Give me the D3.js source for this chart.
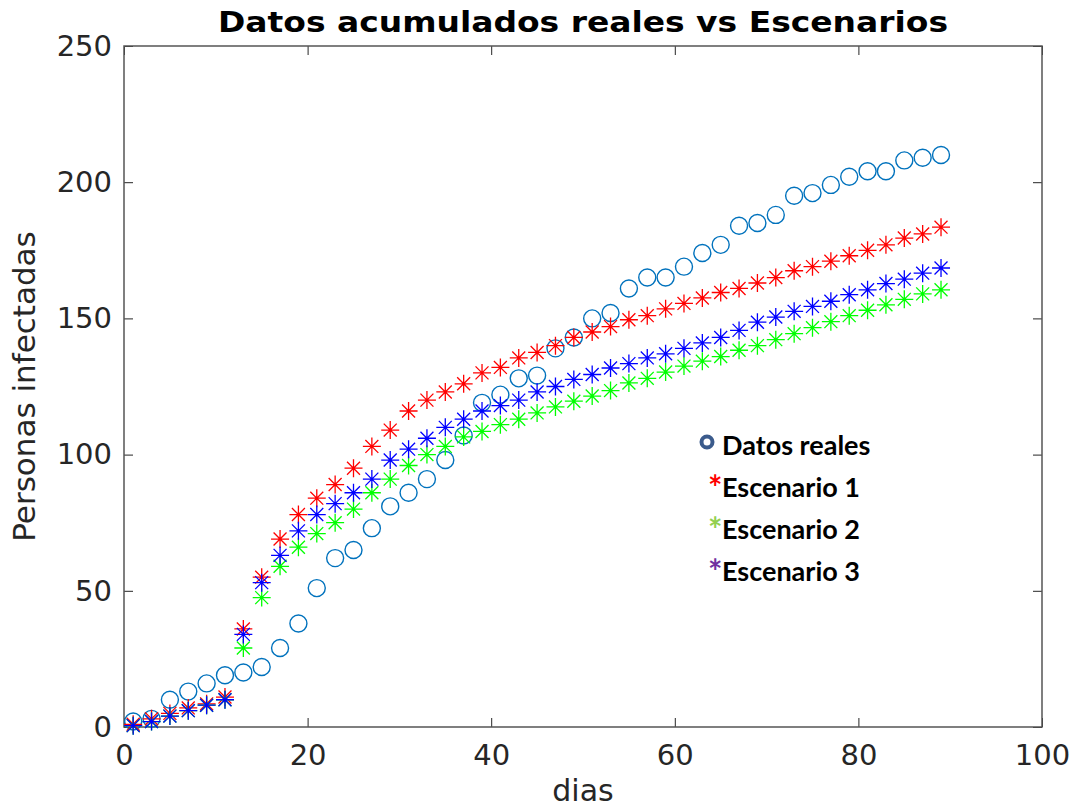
<!DOCTYPE html>
<html>
<head>
<meta charset="utf-8">
<script src="https://cdn.jsdelivr.net/npm/d3@7"></script>
<style>
  body { margin: 0; background: #fff; }
  svg { display: block; }
</style>
</head>
<body>
<svg></svg>
<script>
const width = 1075, height = 810;

// dias (eje x)
const dias = [1, 3, 5, 7, 9, 11, 13, 15, 17, 19, 21, 23, 25, 27, 29, 31, 33, 35, 37, 39, 41, 43, 45,
    47, 49, 51, 53, 55, 57, 59, 61, 63, 65, 67, 69, 71, 73, 75, 77, 79, 81, 83, 85, 87, 89];

const datosReales = [2, 3, 10, 13, 16, 19, 20, 22, 29, 38, 51, 62, 65, 73, 81, 86, 91, 98, 107, 119, 122, 128, 129,
    139, 143, 150, 152, 161, 165, 165, 169, 174, 177, 184, 185, 188, 195, 196, 199, 202, 204, 204, 208, 209, 210];

const escenario1 = [1, 3, 5, 7, 8.5, 11, 36, 55, 69, 78, 84, 89, 95, 103, 109, 116, 120, 123, 126, 130, 132, 135.5, 137.5,
    140, 143, 145, 147, 149.5, 151, 153.5, 155.5, 157.5, 159.5, 161, 163, 165, 167.5, 169, 171, 173, 175, 177, 179.5, 181, 183.5];

const escenario2 = [0.5, 2, 4, 6, 8, 10, 29, 47.5, 59, 66, 71, 75, 80, 86, 91, 96, 100, 103, 106.5, 108.5, 111, 113, 115.3,
    117.5, 119.6, 121.5, 123.5, 126.3, 128, 130.3, 132.5, 134.3, 136, 138.3, 140, 142.2, 144.4, 146.6, 148.8, 151, 153, 155, 157, 159, 160.5];

const escenario3 = [0.5, 2, 4, 6, 8, 10, 34, 53, 63, 72, 78, 82, 86, 91, 98, 102, 106, 110, 113, 116, 118, 120, 123,
    125, 127.6, 129.4, 131.8, 133.4, 135.5, 137, 139, 141, 143, 145.6, 148.6, 150.5, 152.6, 154.4, 156.3, 158.7, 160.5, 162.8, 164.4, 166.6, 168.5];

const xTicks = [0, 20, 40, 60, 80, 100];
const yTicks = [0, 50, 100, 150, 200, 250];

const legendItems = ["Datos reales", "Escenario 1", "Escenario 2", "Escenario 3"];
const legendColors = ["#3b5b8c", "#ff0000", "#92d050", "#7030a0"];

const margin = {top: 46, left: 124, right: 33, bottom: 83};
const innerW = width - margin.left - margin.right,
    innerH = height - margin.top - margin.bottom;

const svg = d3.select("svg").attr("width", width).attr("height", height);

const x = d3.scaleLinear().domain([0, 100]).range([0, innerW]);
const y = d3.scaleLinear().domain([0, 250]).range([innerH, 0]);

const g = svg.append("g").attr("transform", `translate(${margin.left},${margin.top})`);

const axisColor = "#262626";
const tickFont = "DejaVu Sans, sans-serif";

function styleAxis(sel, showText) {
    sel.select(".domain").remove();
    sel.selectAll("line").attr("stroke", axisColor).attr("stroke-width", 1);
    sel.selectAll("text")
        .attr("fill", axisColor)
        .style("font-family", tickFont)
        .style("font-size", "29px");
    if (!showText) sel.selectAll("text").remove();
}

// ejes (ticks hacia dentro, como en MATLAB)
g.append("g").attr("transform", `translate(0,${innerH})`)
    .call(d3.axisBottom(x).tickValues(xTicks).tickSize(-9).tickPadding(17))
    .call(s => styleAxis(s, true));
g.append("g")
    .call(d3.axisTop(x).tickValues(xTicks).tickSize(-9))
    .call(s => styleAxis(s, false));
g.append("g")
    .call(d3.axisLeft(y).tickValues(yTicks).tickSize(-9).tickPadding(12))
    .call(s => styleAxis(s, true));
g.append("g").attr("transform", `translate(${innerW},0)`)
    .call(d3.axisRight(y).tickValues(yTicks).tickSize(-9))
    .call(s => styleAxis(s, false));

// caja
g.append("rect")
    .attr("width", innerW).attr("height", innerH)
    .attr("fill", "none").attr("stroke", "#555").attr("stroke-width", 1.5);

// datos reales: circulos
g.append("g").selectAll("circle")
    .data(dias)
    .join("circle")
    .attr("cx", d => x(d))
    .attr("cy", (d, i) => y(datosReales[i]))
    .attr("r", 8.5)
    .attr("fill", "none")
    .attr("stroke", "#0072bd")
    .attr("stroke-width", 1.4);

// asterisco estilo MATLAB (+ y x)
function asterisk(s) {
    const d = s * 0.72;
    return `M${-s},0L${s},0M0,${-s}L0,${s}M${-d},${-d}L${d},${d}M${-d},${d}L${d},${-d}`;
}

const series = [
    {values: escenario1, color: "#ff0000"},
    {values: escenario2, color: "#00ff00"},
    {values: escenario3, color: "#0000ff"}
];

series.forEach(sr => {
    g.append("g").selectAll("path")
        .data(dias)
        .join("path")
        .attr("transform", (d, i) => `translate(${x(d)},${y(sr.values[i])})`)
        .attr("d", asterisk(9))
        .attr("fill", "none")
        .attr("stroke", sr.color)
        .attr("stroke-width", 1.3);
});

// titulo y etiquetas
svg.append("text")
    .attr("x", margin.left + innerW / 2).attr("y", 32)
    .attr("text-anchor", "middle")
    .attr("textLength", 730)
    .attr("lengthAdjust", "spacingAndGlyphs")
    .style("font-family", "DejaVu Sans, sans-serif")
    .style("font-weight", "bold")
    .style("font-size", "29px")
    .attr("fill", "#000")
    .text("Datos acumulados reales vs Escenarios");

svg.append("text")
    .attr("x", margin.left + innerW / 2).attr("y", 801)
    .attr("text-anchor", "middle")
    .style("font-family", tickFont)
    .style("font-size", "30px")
    .attr("fill", axisColor)
    .text("dias");

svg.append("text")
    .attr("transform", `translate(35,${margin.top + innerH / 2}) rotate(-90)`)
    .attr("text-anchor", "middle")
    .style("font-family", tickFont)
    .style("font-size", "31px")
    .attr("fill", axisColor)
    .text("Personas infectadas");

// leyenda (cuadro de texto)
const legend = svg.append("g").attr("transform", "translate(722,455)");
legendItems.forEach((name, i) => {
    const row = legend.append("g").attr("transform", `translate(0,${i * 42})`);
    if (i === 0) {
        row.append("circle")
            .attr("cx", -15).attr("cy", -13).attr("r", 5.5)
            .attr("fill", "none").attr("stroke", legendColors[i]).attr("stroke-width", 4);
    } else {
        row.append("text")
            .attr("x", -14).attr("y", 3)
            .style("font-family", "Lato, sans-serif")
            .style("font-weight", "bold")
            .style("font-size", "34px")
            .attr("fill", legendColors[i])
            .text("*");
    }
    row.append("text")
        .attr("x", 0).attr("y", 0)
        .style("font-family", "Lato, sans-serif")
        .style("font-weight", "bold")
        .style("font-size", "27px")
        .attr("fill", "#000")
        .text(name);
});
</script>
</body>
</html>
